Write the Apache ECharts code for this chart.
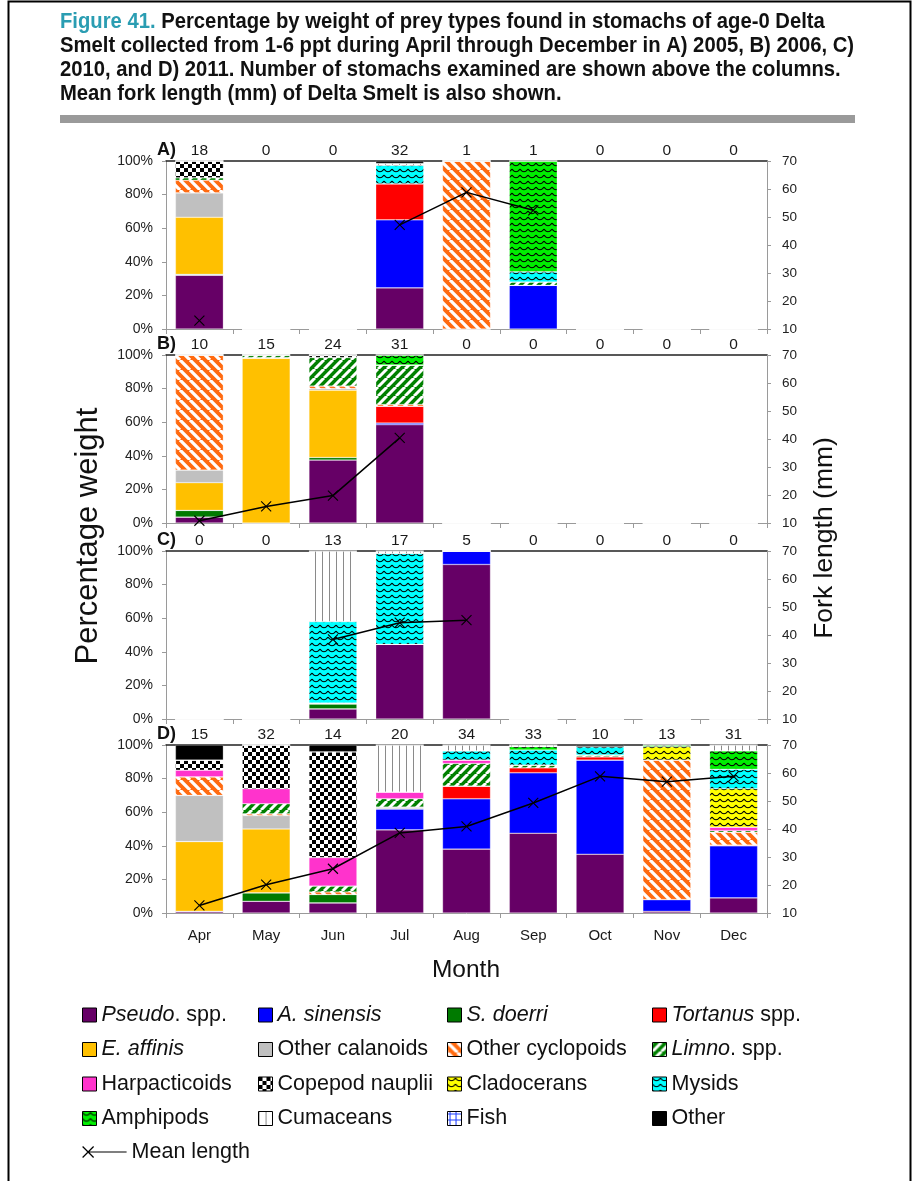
<!DOCTYPE html>
<html><head><meta charset="utf-8">
<script src="https://cdn.jsdelivr.net/npm/echarts/dist/echarts.min.js"></script>
<style>html,body{margin:0;padding:0;background:#fff}#c{width:919px;height:1181px}</style>
</head><body><div id="c"></div>
<script>
// ---------- DATA ----------
const months = ['Apr','May','Jun','Jul','Aug','Sep','Oct','Nov','Dec'];
const panelLabels = ['A)','B)','C)','D)'];
const countsA = [18,0,0,32,1,1,0,0,0];
const countsB = [10,15,24,31,0,0,0,0,0];
const countsC = [0,0,13,17,5,0,0,0,0];
const countsD = [15,32,14,20,34,33,10,13,31];
// mean fork length (mm), null = no fish
const lenA = [13,null,null,47.2,58.8,52.4,null,null,null];
const lenB = [10.8,15.9,19.8,40.4,null,null,null,null,null];
const lenC = [null,null,38.4,44.4,45.3,null,null,null,null];
const lenD = [12.7,20.1,25.8,38.6,40.9,49.3,58.8,56.9,58.8];
// percent by weight; rows = panels A,B,C,D; columns = Apr..Dec
const pseudo   = [[32,0,0,24.5,0,0,0,0,0],[3.5,0,37.5,58.5,0,0,0,0,0],[0,0,6,44.5,92,0,0,0,0],[1,7,6,49.5,38,47.5,35,1,9]];
const sinensis = [[0,0,0,40.5,0,26,0,0,0],[0,0,0,1,0,0,0,0,0],[0,0,0,0,8,0,0,0,0],[0,0,0,12.5,30,36,56,7,31]];
const doerri   = [[0.5,0,0,0,0,0,0,0,0],[4,0,1.5,0,0,0,0,0,0],[0,0,3,0,0,0,0,0,0],[0,5,5,0,0,0,0,0,0]];
const tortanus = [[0,0,0,21.5,0,0,0,0,0],[0,0,0,10,0,0,0,0,0],[0,0,0,0,0,0,0,0,0],[0,0,0,0,7.5,3,2,0,0.5]];
const affinis  = [[34,0,0,0,0,0,0,0,0],[16.5,98,40,0,0,0,0,0,0],[0,0,0,0,0,0,0,0,0],[41.5,38,0,0,0,0,0,0,0]];
const othCal   = [[14.5,0,0,0,0,0,0,0,0],[7.5,0.5,1,0,0,0,0,0,0],[0,0,0.5,0,0,0,0,0,0],[27.5,8,0,1,0,0,0,0,0]];
const othCyc   = [[7.5,0,0,0,100,0,0,0,0],[68.5,0,1.5,1,0,0,0,0,0],[0,0,0,0,0,0,0,0,0],[11,1,1.5,0,0,0,0,83,7.5]];
const limno    = [[1.5,0,0,0,0,2,0,0,0],[0,1.5,17,23.5,0,0,0,0,0],[0,0,0,0,0,0,0,0,0],[0,6,3.5,5,13.5,1.5,1,0,1]];
const harp     = [[0,0,0,0,0,0,0,0,0],[0,0,0,0,0,0,0,0,0],[0,0,0,0,0,0,0,0,0],[4,9,17,4,2,0,0,0,2]];
const nauplii  = [[10,0,0,0,0,0,0,0,0],[0,0,1.5,0,0,0,0,0,0],[0,0,0,0,0,0,0,0,0],[6,26,63,0,0,0,0,0,0]];
const clad     = [[0,0,0,0,0,0,0,0,0],[0,0,0,0,0,0,0,0,0],[0,0,0,0,0,0,0,0,0],[0,0,0,0,0,0,0,8,23]];
const mysids   = [[0,0,0,11,0,6,0,0,0],[0,0,0,0,0,0,0,0,0],[0,0,48.5,54,0,0,0,0,0],[0,0,0,0,5.5,9,5,0,11.5]];
const amph     = [[0,0,0,0,0,66,0,0,0],[0,0,0,6,0,0,0,0,0],[0,0,0,0,0,0,0,0,0],[0,0,0,0,0,2,0,1,11]];
const cum      = [[0,0,0,1,0,0,0,0,0],[0,0,0,0,0,0,0,0,0],[0,0,42,1.5,0,0,0,0,0],[0,0,0,28,3.5,1,0,0,3.5]];
const fish     = [[0,0,0,0,0,0,0,0,0],[0,0,0,0,0,0,0,0,0],[0,0,0,0,0,0,0,0,0],[0,0,0,0,0,0,0,0,0]];
const other    = [[0,0,0,1.5,0,0,0,0,0],[0,0,0,0,0,0,0,0,0],[0,0,0,0,0,0,0,0,0],[9,0,4,0,0,0,1,0,0]];
const preyNames = ['Pseudo. spp.','A. sinensis','S. doerri','Tortanus spp.','E. affinis','Other calanoids','Other cyclopoids','Limno. spp.','Harpacticoids','Copepod nauplii','Cladocerans','Mysids','Amphipods','Cumaceans','Fish','Other'];
const preyData = [pseudo,sinensis,doerri,tortanus,affinis,othCal,othCyc,limno,harp,nauplii,clad,mysids,amph,cum,fish,other];
const counts = [countsA,countsB,countsC,countsD];
const lens = [lenA,lenB,lenC,lenD];
const titleLines = [
  ['Figure 41.',' Percentage by weight of prey types found in stomachs of age-0 Delta'],
  ['','Smelt collected from 1-6 ppt during April through December in A) 2005, B) 2006, C)'],
  ['','2010, and D) 2011. Number of stomachs examined are shown above the columns.'],
  ['','Mean fork length (mm) of Delta Smelt is also shown.']];

// ---------- STYLES ----------
function pat(w,h,draw){const c=document.createElement('canvas');c.width=w;c.height=h;const g=c.getContext('2d');draw(g,w,h);return {image:c,repeat:'repeat'};}
function stripes(bg,fg,dir,size,lw){return pat(size,size,(g,w,h)=>{g.fillStyle=bg;g.fillRect(0,0,w,h);g.strokeStyle=fg;g.lineWidth=lw;g.beginPath();for(const k of [-w,0,w]){if(dir>0){g.moveTo(k,h);g.lineTo(k+w,0);}else{g.moveTo(k,0);g.lineTo(k+w,h);}}g.stroke();});}
function wave(bg){return pat(8,6,(g,w,h)=>{g.fillStyle=bg;g.fillRect(0,0,w,h);g.strokeStyle='#000';g.lineWidth=1.2;g.beginPath();g.moveTo(0,1);g.quadraticCurveTo(4,6.5,8,1);g.stroke();});}
const checker = pat(8,8,(g)=>{g.fillStyle='#fff';g.fillRect(0,0,8,8);g.fillStyle='#000';g.fillRect(0,0,4,4);g.fillRect(4,4,4,4);});
const vlines = pat(7,4,(g)=>{g.fillStyle='#fff';g.fillRect(0,0,7,4);g.fillStyle='#8a8a8a';g.fillRect(0,0,1,4);});
const fishPat = pat(6,6,(g)=>{g.fillStyle='#fff';g.fillRect(0,0,6,6);g.fillStyle='#2040ff';g.fillRect(2,0,1,6);g.fillRect(0,2,6,1);});
const preyColors = ['#660066','#0000ff','#007a00','#ff0000','#ffc000','#c0c0c0',
  stripes('#ff6a10','#ffffff',-1,10,3.2), stripes('#008000','#ffffff',1,9,3),
  '#ff33cc', checker, wave('#ffff00'), wave('#00ffff'), wave('#00ee00'), vlines, fishPat, '#000000'];

const font = "'Liberation Sans', Arial, sans-serif";
const gridTops = [161,355,551,745];
const gridH = 168;
const grids=[], xAxes=[], yAxes=[], series=[], graphics=[];
for(let i=0;i<4;i++){
  grids.push({left:166,right:152,top:gridTops[i],height:gridH});
  xAxes.push({gridIndex:i,type:'category',data:months,position:'bottom',
    axisLine:{lineStyle:{color:'#9a9a9a',width:1}},
    axisTick:{show:true,length:5,lineStyle:{color:'#9a9a9a'}},
    axisLabel:{show:i===3,fontFamily:font,fontSize:15,color:'#1a1a1a',margin:15},
    splitLine:{show:false}});
  const cnt = counts[i];
  xAxes.push({gridIndex:i,type:'category',data:months,position:'top',
    axisLine:{show:true,lineStyle:{color:'#222',width:1.5}},
    axisTick:{show:false},
    axisLabel:{show:true,fontFamily:font,fontSize:15.5,color:'#1a1a1a',margin:2,formatter:(v,idx)=>String(cnt[idx])},
    splitLine:{show:false}});
  yAxes.push({gridIndex:i,type:'value',min:0,max:100,interval:20,position:'left',
    axisLine:{show:true,lineStyle:{color:'#9a9a9a'}},
    axisTick:{show:true,length:4,lineStyle:{color:'#9a9a9a'}},
    axisLabel:{fontFamily:font,fontSize:14,color:'#222',margin:13,formatter:'{value}%'},
    splitLine:{show:false}});
  yAxes.push({gridIndex:i,type:'value',min:10,max:70,interval:10,position:'right',
    axisLine:{show:true,lineStyle:{color:'#9a9a9a'}},
    axisTick:{show:true,length:4,lineStyle:{color:'#9a9a9a'}},
    axisLabel:{fontFamily:font,fontSize:13.5,color:'#222',margin:15},
    splitLine:{show:false}});
  preyNames.forEach((nm,k)=>{
    series.push({type:'bar',name:nm,xAxisIndex:2*i,yAxisIndex:2*i,stack:'s'+i,barWidth:48,
      data:preyData[k][i],itemStyle:{color:preyColors[k],borderColor:'rgba(255,255,255,0.45)',borderWidth:0.6},
      emphasis:{disabled:true},silent:true});
  });
  series.push({type:'line',name:'Mean length',xAxisIndex:2*i,yAxisIndex:2*i+1,data:lens[i],connectNulls:false,
    symbol:'path://M0,0L10,10M10,0L0,10',symbolSize:10,showAllSymbol:true,
    itemStyle:{color:'#000',borderColor:'#000',borderWidth:1.1},
    lineStyle:{color:'#000',width:1.5},z:10,silent:true});
  graphics.push({type:'text',x:157,y:gridTops[i]-11,style:{text:panelLabels[i],font:"bold 18px "+font,fill:'#111',textVerticalAlign:'middle'}});
}

const it = {fontStyle:'italic',fontFamily:font,fontSize:21.5,color:'#111'};
function fmt(n){
  const m={'Pseudo. spp.':'{i|Pseudo}. spp.','A. sinensis':'{i|A. sinensis}','S. doerri':'{i|S. doerri}',
   'Tortanus spp.':'{i|Tortanus} spp.','E. affinis':'{i|E. affinis}','Limno. spp.':'{i|Limno}. spp.'};
  return m[n]||n;
}
const legCols = [
  ['Pseudo. spp.','E. affinis','Harpacticoids','Amphipods'],
  ['A. sinensis','Other calanoids','Copepod nauplii','Cumaceans'],
  ['S. doerri','Other cyclopoids','Cladocerans','Fish'],
  ['Tortanus spp.','Limno. spp.','Mysids','Other']];
const legX = [82,258,447,652];
const legends = legCols.map((d,ci)=>({orient:'vertical',left:legX[ci],top:1004,padding:0,data:d,icon:'rect',itemWidth:14,itemHeight:14,itemGap:12.5,
  selectedMode:false,itemStyle:{borderColor:'#000',borderWidth:1},
  formatter:fmt,textStyle:{fontFamily:font,fontSize:21.5,color:'#111',lineHeight:22,rich:{i:it}}}));
legends.push({orient:'vertical',left:82,top:1141,padding:0,data:['Mean length'],selectedMode:false,
  icon:'path://M0,0L10,10M10,0L0,10M5,5L40,5',itemWidth:44,itemHeight:11,
  itemStyle:{color:'#000',borderColor:'#000',borderWidth:1.2},lineStyle:{color:'#000'},
  textStyle:{fontFamily:font,fontSize:21.5,color:'#111',lineHeight:22}});

const tf = "'Liberation Sans', Arial, sans-serif";
const titleY = [22,46,70,94];
titleLines.forEach((ln,k)=>{
  graphics.push({type:'text',x:60,y:titleY[k],scaleX:0.92,scaleY:1,
    style:{text:(ln[0]?'{t|'+ln[0]+'}':'')+'{b|'+ln[1]+'}',textVerticalAlign:'middle',
      rich:{t:{fontFamily:tf,fontWeight:'bold',fontSize:22,fill:'#2a9db2',color:'#2a9db2'},
            b:{fontFamily:tf,fontWeight:'bold',fontSize:22,fill:'#111',color:'#111'}}}});
});

graphics.push(
  {type:'rect',shape:{x:8.5,y:1.5,width:902,height:1200},style:{fill:'none',stroke:'#000',lineWidth:2},silent:true},
  {type:'rect',shape:{x:60,y:115,width:795,height:8},style:{fill:'#9a9a9a'},silent:true},
  {type:'text',x:88,y:536,rotation:Math.PI/2,style:{text:'Percentage weight',font:'31px '+font,fill:'#111',textAlign:'center',textVerticalAlign:'middle'}},
  {type:'text',x:825,y:538,rotation:Math.PI/2,style:{text:'Fork length (mm)',font:'26.5px '+font,fill:'#111',textAlign:'center',textVerticalAlign:'middle'}},
  {type:'text',x:466,y:970,style:{text:'Month',font:'24.5px '+font,fill:'#111',textAlign:'center',textVerticalAlign:'middle'}}
);

const chart = echarts.init(document.getElementById('c'),null,{renderer:'canvas'});
chart.setOption({
  animation:false,
  backgroundColor:'#fff',
  grid:grids,xAxis:xAxes,yAxis:yAxes,series:series,legend:legends,graphic:graphics,
  tooltip:{show:false}
});
</script></body></html>
